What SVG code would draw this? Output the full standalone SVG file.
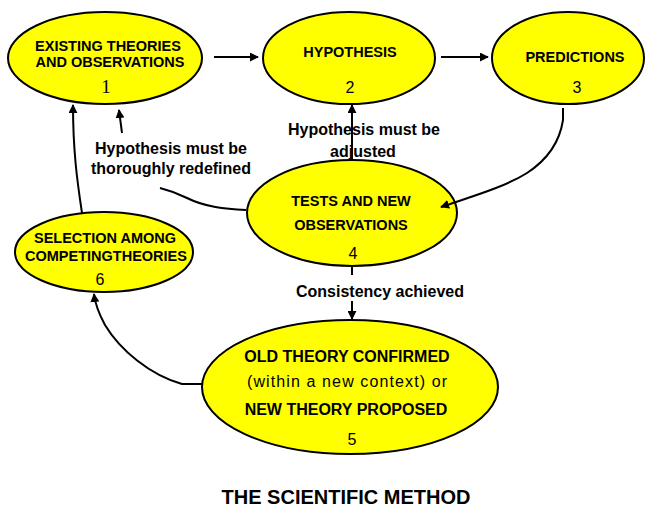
<svg xmlns="http://www.w3.org/2000/svg" width="645" height="511" viewBox="0 0 645 511">
<defs>
<marker id="ah" viewBox="0 0 10 10" refX="9" refY="5" markerWidth="9" markerHeight="9" markerUnits="userSpaceOnUse" orient="auto">
<path d="M0,0 L10,5 L0,10 z" fill="#000"/>
</marker>
</defs>
<style>
.node ellipse{fill:#FFFF00;stroke:#000;stroke-width:2}
.b{font-family:"Liberation Sans",Arial,sans-serif;font-weight:bold;font-size:14.5px;fill:#000;text-anchor:middle}
.n{font-family:"Liberation Sans",Arial,sans-serif;font-size:16px;fill:#000;text-anchor:middle}
.lbl{font-family:"Liberation Sans",Arial,sans-serif;font-weight:bold;font-size:16px;fill:#000;text-anchor:middle}
.title{font-family:"Liberation Sans",Arial,sans-serif;font-weight:bold;font-size:20px;fill:#000;text-anchor:middle}
.c{fill:none;stroke:#000;stroke-width:2}
</style>
<rect width="645" height="511" fill="#fff"/>
<g id="n1" class="node">
<ellipse cx="105" cy="58" rx="97" ry="46"/>
<text class="b" x="108" y="51">EXISTING THEORIES</text>
<text class="b" x="110" y="67">AND  OBSERVATIONS</text>
<text x="106" y="93" font-family="'Liberation Serif','Times New Roman',serif" font-size="19" text-anchor="middle">1</text>
</g>
<g id="n2" class="node">
<ellipse cx="349" cy="58" rx="86" ry="46"/>
<text class="b" x="350" y="57">HYPOTHESIS</text>
<text class="n" x="350" y="93">2</text>
</g>
<g id="n3" class="node">
<ellipse cx="568" cy="58" rx="76" ry="46"/>
<text class="b" x="575" y="62">PREDICTIONS</text>
<text class="n" x="577" y="93">3</text>
</g>
<g id="n4" class="node">
<ellipse cx="352" cy="213" rx="105" ry="53"/>
<text class="b" x="351" y="206">TESTS AND NEW</text>
<text class="b" x="351" y="230">OBSERVATIONS</text>
<text class="n" x="353" y="259">4</text>
</g>
<g id="n5" class="node">
<ellipse cx="350" cy="387" rx="148" ry="67"/>
<text class="lbl" x="347" y="362">OLD THEORY CONFIRMED</text>
<text class="n" x="347" y="387" textLength="200" lengthAdjust="spacing">(within a new context) or</text>
<text class="lbl" x="346" y="415">NEW THEORY PROPOSED</text>
<text class="n" x="352" y="445">5</text>
</g>
<g id="n6" class="node">
<ellipse cx="104" cy="252" rx="89" ry="40"/>
<text class="b" x="105" y="243">SELECTION AMONG</text>
<text class="b" x="106" y="261">COMPETINGTHEORIES</text>
<text class="n" x="100" y="285">6</text>
</g>
<g id="connectors">
<path class="c" d="M214,57 L258,57" marker-end="url(#ah)"/>
<path class="c" d="M441,57 L488,57" marker-end="url(#ah)"/>
<path class="c" d="M563,108 L563,120 C560,140 550,158 527,173 C505,187 470,197 441,207" marker-end="url(#ah)"/>
<path class="c" d="M352,160 L352,105" marker-end="url(#ah)"/>
<path class="c" d="M246,210 C225,209 205,207 187,198 C175,192 168,190 160,188"/>
<path class="c" d="M122,133 L119,110" marker-end="url(#ah)"/>
<path class="c" d="M82,213 C77,180 73,150 73,105" marker-end="url(#ah)"/>
<path class="c" d="M352,267 L352,275"/>
<path class="c" d="M352,301 L352,319" marker-end="url(#ah)"/>
<path class="c" d="M203,384 L182,384 C150,375 120,350 105,325 C98,312 95,303 94,294" marker-end="url(#ah)"/>
</g>
<g id="labels">
<text class="lbl" x="171" y="154">Hypothesis must be</text>
<text class="lbl" x="171" y="174">thoroughly redefined</text>
<text class="lbl" x="364" y="135">Hypothesis must be</text>
<text class="lbl" x="363" y="157">adjusted</text>
<text class="lbl" x="380" y="297">Consistency achieved</text>
<text class="title" x="346" y="504">THE SCIENTIFIC METHOD</text>
</g>
</svg>
